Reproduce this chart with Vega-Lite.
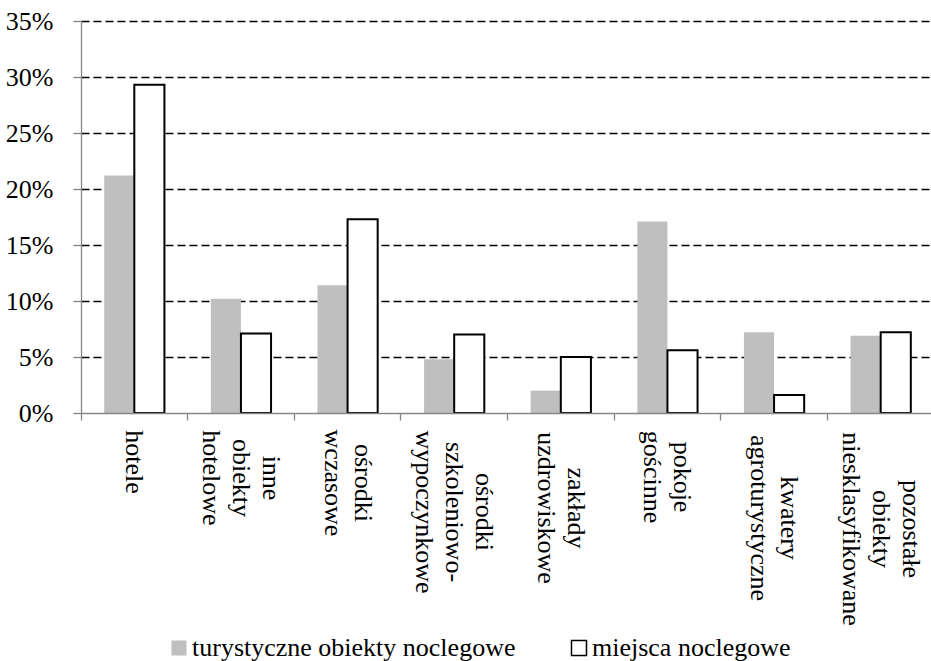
{
  "$schema": "https://vega.github.io/schema/vega-lite/v6.json",
  "width": 853,
  "height": 392,
  "autosize": {"type": "none"},
  "padding": {"left": 81, "top": 21, "right": -3, "bottom": 248},
  "background": "white",
  "config": {
    "view": {"stroke": null},
    "font": "Liberation Serif"
  },
  "data": {
    "values": [
      {"kategoria": "hotele", "seria": "turystyczne obiekty noclegowe", "udzial": 0.212},
      {"kategoria": "hotele", "seria": "miejsca noclegowe", "udzial": 0.293},
      {"kategoria": "inne obiekty hotelowe", "seria": "turystyczne obiekty noclegowe", "udzial": 0.102},
      {"kategoria": "inne obiekty hotelowe", "seria": "miejsca noclegowe", "udzial": 0.071},
      {"kategoria": "ośrodki wczasowe", "seria": "turystyczne obiekty noclegowe", "udzial": 0.114},
      {"kategoria": "ośrodki wczasowe", "seria": "miejsca noclegowe", "udzial": 0.173},
      {"kategoria": "ośrodki szkoleniowo-wypoczynkowe", "seria": "turystyczne obiekty noclegowe", "udzial": 0.048},
      {"kategoria": "ośrodki szkoleniowo-wypoczynkowe", "seria": "miejsca noclegowe", "udzial": 0.070},
      {"kategoria": "zakłady uzdrowiskowe", "seria": "turystyczne obiekty noclegowe", "udzial": 0.020},
      {"kategoria": "zakłady uzdrowiskowe", "seria": "miejsca noclegowe", "udzial": 0.050},
      {"kategoria": "pokoje gościnne", "seria": "turystyczne obiekty noclegowe", "udzial": 0.171},
      {"kategoria": "pokoje gościnne", "seria": "miejsca noclegowe", "udzial": 0.056},
      {"kategoria": "kwatery agroturystyczne", "seria": "turystyczne obiekty noclegowe", "udzial": 0.072},
      {"kategoria": "kwatery agroturystyczne", "seria": "miejsca noclegowe", "udzial": 0.016},
      {"kategoria": "pozostałe obiekty niesklasyfikowane", "seria": "turystyczne obiekty noclegowe", "udzial": 0.069},
      {"kategoria": "pozostałe obiekty niesklasyfikowane", "seria": "miejsca noclegowe", "udzial": 0.072}
    ]
  },
  "mark": {"type": "bar", "strokeWidth": 2},
  "encoding": {
    "x": {
      "field": "kategoria",
      "type": "nominal",
      "sort": null,
      "scale": {"paddingInner": 0, "paddingOuter": 0},
      "axis": {
        "title": null,
        "zindex": 1,
        "bandPosition": 0,
        "labelAngle": 90,
        "labelAlign": "center",
        "labelBaseline": "middle",
        "labelFont": "Liberation Serif",
        "labelColor": "#000000",
        "labelFontSize": 26,
        "labelLineHeight": 30,
        "labelOverlap": false,
        "labelBound": false,
        "labelLimit": 0,
        "labelExpr": "split(replace(datum.value, '-', '- '), ' ')",
        "labelOffset": {
          "condition": [
            {"test": "datum.value === 'hotele'", "value": 0},
            {"test": "datum.value === 'inne obiekty hotelowe'", "value": 30},
            {"test": "datum.value === 'ośrodki szkoleniowo-wypoczynkowe'", "value": 30},
            {"test": "datum.value === 'pozostałe obiekty niesklasyfikowane'", "value": 30}
          ],
          "value": 15
        },
        "labelPadding": {
          "condition": [
            {"test": "datum.value === 'hotele'", "value": 41.5},
            {"test": "datum.value === 'inne obiekty hotelowe'", "value": 57.5},
            {"test": "datum.value === 'ośrodki wczasowe'", "value": 62.5},
            {"test": "datum.value === 'ośrodki szkoleniowo-wypoczynkowe'", "value": 91.5},
            {"test": "datum.value === 'zakłady uzdrowiskowe'", "value": 87.5},
            {"test": "datum.value === 'pokoje gościnne'", "value": 56.5},
            {"test": "datum.value === 'kwatery agroturystyczne'", "value": 97.5}
          ],
          "value": 108.5
        },
        "tickSize": 7,
        "tickColor": "#868686",
        "tickWidth": 1.3,
        "domainColor": "#868686",
        "domainWidth": 1.3,
        "grid": false
      }
    },
    "xOffset": {
      "field": "seria",
      "type": "nominal",
      "sort": ["turystyczne obiekty noclegowe", "miejsca noclegowe"],
      "scale": {"paddingInner": 0, "paddingOuter": 0.77}
    },
    "y": {
      "field": "udzial",
      "type": "quantitative",
      "scale": {"domain": [0, 0.35], "nice": false},
      "axis": {
        "title": null,
        "zindex": 0,
        "values": [0, 0.05, 0.1, 0.15, 0.2, 0.25, 0.3, 0.35],
        "format": ".0%",
        "labelFont": "Liberation Serif",
        "labelColor": "#000000",
        "labelFontSize": 26,
        "labelPadding": 20,
        "tickSize": 8,
        "tickColor": "#868686",
        "tickWidth": 1.3,
        "domainColor": "#868686",
        "domainWidth": 1.3,
        "grid": true,
        "gridColor": "#000000",
        "gridDash": [8, 4],
        "gridWidth": 1.3,
        "gridOpacity": {"condition": {"test": "datum.value === 0", "value": 0}, "value": 1}
      }
    },
    "fill": {
      "field": "seria",
      "type": "nominal",
      "scale": {"domain": ["turystyczne obiekty noclegowe", "miejsca noclegowe"], "range": ["#BFBFBF", "#FFFFFF"]},
      "legend": {
        "title": null,
        "orient": "none",
        "legendX": 85,
        "legendY": 614,
        "direction": "horizontal",
        "symbolType": "square",
        "symbolSize": 225,
        "symbolStrokeWidth": 1.5,
        "labelFont": "Liberation Serif",
        "labelColor": "#000000",
        "labelFontSize": 26,
        "labelOffset": 0,
        "labelLimit": 0,
        "columnPadding": 50,
        "padding": 0
      }
    },
    "stroke": {
      "field": "seria",
      "type": "nominal",
      "scale": {"domain": ["turystyczne obiekty noclegowe", "miejsca noclegowe"], "range": ["rgba(0,0,0,0)", "#000000"]},
      "legend": {
        "title": null,
        "orient": "none",
        "legendX": 85,
        "legendY": 614,
        "direction": "horizontal",
        "symbolType": "square",
        "symbolSize": 225,
        "symbolStrokeWidth": 1.5,
        "labelFont": "Liberation Serif",
        "labelColor": "#000000",
        "labelFontSize": 26,
        "labelOffset": 0,
        "labelLimit": 0,
        "columnPadding": 50,
        "padding": 0
      }
    }
  }
}
